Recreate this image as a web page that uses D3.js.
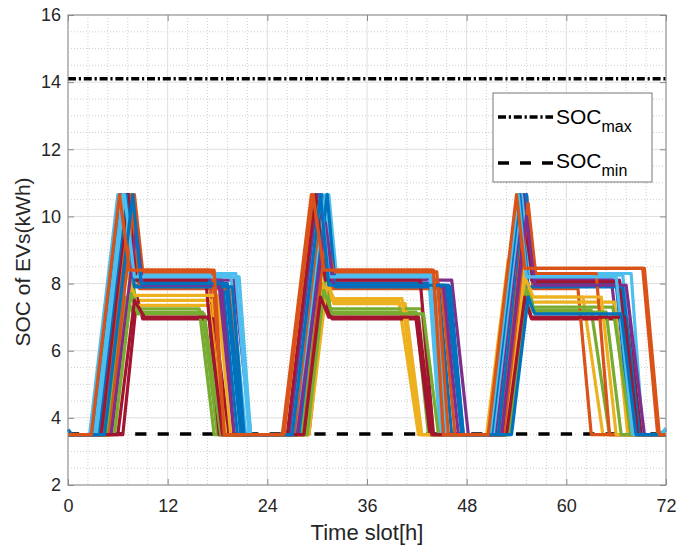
<!DOCTYPE html>
<html>
<head>
<meta charset="utf-8">
<script src="https://cdn.jsdelivr.net/npm/d3@7"></script>
<style>
  body { margin: 0; background: #fff; }
  svg { display: block; font-family: "Liberation Sans", Arial, sans-serif; }
</style>
</head>
<body>
<script>
// Achsen / Ticks
const xTicks = [0, 12, 24, 36, 48, 60, 72];
const yTicks = [2, 4, 6, 8, 10, 12, 14, 16];
const xMinor = d3.range(0, 72.01, 2.4);
const yMinor = d3.range(2, 16.01, 0.5);

// Grenzwerte
const socMax = 14.1;
const socMin = 3.52;

// SOC-Verlauf je EV, als [Stunde, kWh] Knickpunkte
const ev01 = [[0,3.65],[0.5,3.5],[3.0,3.5],[6.4,10.65],[7.6,7.95],[19.0,7.95],[20.8,3.5],[26.6,3.5],[30.0,10.65],[31.2,7.95],[45.5,7.95],[47.4,3.5],[51.6,3.5],[55.0,10.65],[56.0,7.95],[66.2,7.95],[68.0,3.5],[71.2,3.5],[72,3.65]];
const ev02 = [[0,3.5],[3.4,3.5],[6.8,10.65],[8.0,8.4],[17.0,8.4],[18.4,3.5],[25.8,3.5],[29.3,10.65],[30.6,8.4],[43.8,8.4],[45.0,3.5],[51.0,3.5],[54.4,10.65],[55.4,8.45],[69.2,8.45],[71.0,3.5],[72,3.5]];
const ev03 = [[0,3.5],[4.6,3.5],[7.0,8.6],[7.8,7.5],[17.4,7.5],[19.0,3.5],[28.4,3.5],[30.6,8.9],[31.6,7.5],[39.8,7.5],[42.2,3.5],[50.4,3.5],[53.0,8.7],[55.6,7.6],[62.0,7.6],[64.4,3.5],[72,3.5]];
const ev04 = [[0,3.5],[3.6,3.5],[7.0,10.65],[8.2,8.1],[20.0,8.1],[22.0,3.5],[27.0,3.5],[30.4,10.65],[31.6,8.1],[46.2,8.1],[48.2,3.5],[52.0,3.5],[55.2,10.65],[56.2,8.15],[65.4,8.15],[67.6,3.5],[72,3.5]];
const ev05 = [[0,3.5],[4.8,3.5],[7.0,7.6],[7.8,7.15],[16.2,7.15],[18.0,3.5],[28.6,3.5],[30.6,8.0],[31.6,7.15],[41.9,7.15],[43.4,3.5],[52.6,3.5],[55.0,8.0],[56.0,7.2],[63.0,7.2],[65.2,3.5],[72,3.5]];
const ev06 = [[0,3.5],[2.6,3.5],[6.0,10.65],[7.4,8.3],[20.2,8.3],[21.8,3.5],[28.0,3.5],[31.4,10.65],[32.3,8.3],[43.4,8.3],[44.8,3.5],[51.8,3.5],[55.2,10.65],[56.2,8.3],[67.8,8.3],[69.2,3.5],[71.4,3.5],[72,3.7]];
const ev07 = [[0,3.5],[6.6,3.5],[8.3,7.6],[9.0,6.95],[17.6,6.95],[19.4,3.5],[29.0,3.5],[30.8,7.6],[31.8,6.95],[41.9,6.95],[43.6,3.5],[52.8,3.5],[54.8,7.7],[55.8,6.95],[67.4,6.95],[69.0,3.5],[72,3.5]];
const ev08 = [[0,3.5],[4.0,3.5],[7.4,10.65],[8.4,8.05],[18.6,8.05],[20.4,3.5],[27.2,3.5],[30.6,10.65],[31.6,8.0],[44.6,8.0],[46.2,3.5],[51.8,3.5],[55.2,10.65],[56.0,8.0],[66.0,8.0],[67.8,3.5],[72,3.5]];
const ev09 = [[0,3.5],[4.2,3.5],[7.6,10.65],[8.6,7.85],[19.4,7.85],[21.2,3.5],[27.4,3.5],[30.4,10.0],[31.4,7.85],[45.0,7.85],[46.6,3.5],[52.2,3.5],[55.0,10.0],[56.0,7.85],[61.4,7.85],[63.0,3.5],[72,3.5]];
const ev10 = [[0,3.5],[5.2,3.5],[7.6,8.3],[8.2,7.35],[17.0,7.35],[18.6,3.5],[28.8,3.5],[31.0,8.4],[32.0,7.4],[40.6,7.4],[42.6,3.5],[52.4,3.5],[54.8,8.5],[55.8,7.45],[65.8,7.45],[67.4,3.5],[72,3.5]];
const ev11 = [[0,3.5],[3.8,3.5],[7.2,10.65],[8.0,8.15],[18.4,8.15],[20.0,3.5],[26.8,3.5],[30.2,10.65],[31.4,8.15],[43.8,8.15],[45.4,3.5],[51.4,3.5],[54.8,10.65],[55.8,8.1],[66.4,8.1],[68.6,3.5],[72,3.5]];
const ev12 = [[0,3.5],[4.4,3.5],[7.4,9.0],[8.2,7.25],[15.8,7.25],[17.6,3.5],[28.2,3.5],[30.6,8.6],[31.6,7.25],[42.6,7.25],[44.0,3.5],[53.0,3.5],[55.2,8.2],[56.0,7.3],[65.6,7.3],[67.8,3.5],[72,3.5]];
const ev13 = [[0,3.5],[3.2,3.5],[6.6,10.65],[7.8,8.25],[19.6,8.25],[21.4,3.5],[27.6,3.5],[31.0,10.65],[32.0,8.25],[44.0,8.25],[45.6,3.5],[51.2,3.5],[54.6,10.65],[55.6,8.25],[66.8,8.25],[68.6,3.5],[72,3.5]];
const ev14 = [[0,3.5],[4.0,3.5],[7.2,10.65],[8.2,8.1],[16.6,8.1],[18.2,3.5],[26.4,3.5],[29.8,10.65],[31.0,8.1],[42.4,8.1],[44.0,3.5],[52.4,3.5],[55.0,9.8],[56.0,8.05],[66.4,8.05],[68.4,3.5],[72,3.5]];
const ev15 = [[0,3.5],[3.6,3.5],[7.0,10.65],[8.0,7.9],[19.8,7.9],[21.2,3.5],[27.8,3.5],[31.2,10.65],[32.2,7.9],[46.0,7.9],[47.6,3.5],[51.0,3.5],[54.4,10.65],[55.4,7.9],[66.8,7.9],[68.8,3.5],[72,3.5]];
const ev16 = [[0,3.5],[5.0,3.5],[8.0,10.65],[9.0,8.35],[17.4,8.35],[18.8,3.5],[28.4,3.5],[31.0,9.4],[32.0,8.35],[44.4,8.35],[45.8,3.5],[52.6,3.5],[55.4,10.4],[56.3,8.3],[63.6,8.3],[65.2,3.5],[72,3.5]];
const ev17 = [[0,3.5],[5.4,3.5],[7.4,8.0],[8.0,7.65],[18.0,7.65],[19.6,3.5],[29.0,3.5],[31.2,8.0],[32.0,7.55],[40.2,7.55],[42.4,3.5],[52.8,3.5],[55.0,8.2],[56.0,7.6],[64.2,7.6],[66.0,3.5],[72,3.5]];
const ev18 = [[0,3.5],[5.2,3.5],[8.2,9.6],[9.0,7.95],[18.2,7.95],[20.0,3.5],[27.6,3.5],[31.0,9.8],[32.0,7.95],[45.2,7.95],[47.0,3.5],[52.2,3.5],[55.2,10.0],[56.2,7.95],[67.2,7.95],[69.4,3.5],[72,3.5]];
const ev19 = [[0,3.5],[5.6,3.5],[7.6,7.7],[8.4,7.1],[16.4,7.1],[18.4,3.5],[28.8,3.5],[30.8,7.8],[31.8,7.1],[42.8,7.1],[44.6,3.5],[53.2,3.5],[55.2,7.8],[56.0,7.15],[64.8,7.15],[66.6,3.5],[72,3.5]];
const ev20 = [[0,3.5],[3.4,3.5],[6.8,10.65],[8.0,8.2],[20.6,8.2],[22.0,3.5],[27.0,3.5],[30.4,10.65],[31.4,8.2],[43.6,8.2],[45.2,3.5],[50.8,3.5],[54.2,10.65],[55.2,8.2],[66.0,8.2],[68.0,3.5],[72,3.5]];
const ev21 = [[0,3.5],[6.0,3.5],[8.0,7.5],[9.2,7.0],[17.0,7.0],[18.6,3.5],[28.4,3.5],[30.4,7.6],[31.4,7.0],[42.2,7.0],[43.8,3.5],[52.8,3.5],[55.0,7.6],[55.8,7.0],[67.0,7.0],[68.6,3.5],[72,3.5]];
const ev22 = [[0,3.5],[4.4,3.5],[7.8,10.65],[8.8,8.0],[19.2,8.0],[21.0,3.5],[27.0,3.5],[30.4,10.65],[31.4,7.95],[45.8,7.95],[47.6,3.5],[53.4,3.5],[55.4,7.6],[56.2,7.1],[66.6,7.1],[68.4,3.5],[72,3.5]];
const ev23 = [[0,3.5],[2.8,3.5],[6.2,10.65],[7.4,8.4],[17.6,8.4],[18.8,3.5],[26.0,3.5],[29.5,10.65],[30.8,8.4],[44.0,8.4],[45.2,3.5],[50.6,3.5],[54.0,10.65],[55.0,8.45],[69.4,8.45],[71.2,3.5],[72,3.5]];

const evSeries = [ev01, ev02, ev03, ev04, ev05, ev06, ev07, ev08, ev09, ev10, ev11, ev12,
                  ev13, ev14, ev15, ev16, ev17, ev18, ev19, ev20, ev21, ev22, ev23];

// MATLAB Standard-Farbreihenfolge
const colorOrder = ["#0072BD", "#D95319", "#EDB120", "#7E2F8E", "#77AC30", "#4DBEEE", "#A2142F"];

const W = 677, H = 550;
const margin = {top: 15, right: 11, bottom: 65, left: 68};
const width = W - margin.left - margin.right,
      height = H - margin.top - margin.bottom;

const svg = d3.select("body").append("svg")
    .attr("width", W)
    .attr("height", H);

const g = svg.append("g")
    .attr("transform", `translate(${margin.left},${margin.top})`);

const x = d3.scaleLinear().domain([0, 72]).range([0, width]);
const y = d3.scaleLinear().domain([2, 16]).range([height, 0]);

// Nebengitter (gepunktet)
g.append("g").selectAll("line")
    .data(xMinor.filter(v => !xTicks.some(t => Math.abs(t - v) < 1e-6)))
    .join("line")
    .attr("x1", d => x(d)).attr("x2", d => x(d))
    .attr("y1", 0).attr("y2", height)
    .attr("stroke", "#cfcfcf").attr("stroke-width", 1)
    .attr("stroke-dasharray", "1,2");
g.append("g").selectAll("line")
    .data(yMinor.filter(v => !yTicks.some(t => Math.abs(t - v) < 1e-6)))
    .join("line")
    .attr("x1", 0).attr("x2", width)
    .attr("y1", d => y(d)).attr("y2", d => y(d))
    .attr("stroke", "#cfcfcf").attr("stroke-width", 1)
    .attr("stroke-dasharray", "1,2");

// Hauptgitter
g.append("g").selectAll("line")
    .data(xTicks)
    .join("line")
    .attr("x1", d => x(d)).attr("x2", d => x(d))
    .attr("y1", 0).attr("y2", height)
    .attr("stroke", "#dedede").attr("stroke-width", 1);
g.append("g").selectAll("line")
    .data(yTicks)
    .join("line")
    .attr("x1", 0).attr("x2", width)
    .attr("y1", d => y(d)).attr("y2", d => y(d))
    .attr("stroke", "#dedede").attr("stroke-width", 1);

// SOC Grenzen
const hline = (v) => d3.line()([[x(0), y(v)], [x(72), y(v)]]);
g.append("path")
    .attr("d", hline(socMax))
    .attr("fill", "none").attr("stroke", "#000").attr("stroke-width", 3.5)
    .attr("stroke-dasharray", "8,2.8,2.2,2.8");
g.append("path")
    .attr("d", hline(socMin))
    .attr("fill", "none").attr("stroke", "#000").attr("stroke-width", 3.5)
    .attr("stroke-dasharray", "11.2,11.2");

// EV Linien
const line = d3.line()
    .x(d => x(d[0]))
    .y(d => y(d[1]));

g.append("g").selectAll("path")
    .data(evSeries)
    .join("path")
    .attr("d", line)
    .attr("fill", "none")
    .attr("stroke", (d, i) => colorOrder[i % colorOrder.length])
    .attr("stroke-width", 3.2)
    .attr("stroke-linejoin", "round");

// Achsen
const axisColor = "#8a8a8a";
const styleAxis = sel => {
    sel.select(".domain").remove();
    sel.selectAll(".tick line").attr("stroke", axisColor);
    sel.selectAll(".tick text")
        .attr("fill", "#262626")
        .style("font-size", "18px")
        .style("font-family", "'Liberation Sans', Arial, sans-serif");
};

g.append("g")
    .attr("transform", `translate(0,${height})`)
    .call(d3.axisBottom(x).tickValues(xTicks).tickSizeInner(-6).tickSizeOuter(0).tickPadding(14))
    .call(styleAxis);
g.append("g")
    .call(d3.axisTop(x).tickValues(xTicks).tickSizeInner(-6).tickSizeOuter(0).tickFormat(""))
    .call(styleAxis);
g.append("g")
    .call(d3.axisLeft(y).tickValues(yTicks).tickSizeInner(-6).tickSizeOuter(0).tickPadding(7))
    .call(styleAxis);
g.append("g")
    .attr("transform", `translate(${width},0)`)
    .call(d3.axisRight(y).tickValues(yTicks).tickSizeInner(-6).tickSizeOuter(0).tickFormat(""))
    .call(styleAxis);

// Rahmen
g.append("rect")
    .attr("width", width).attr("height", height)
    .attr("fill", "none").attr("stroke", axisColor).attr("stroke-width", 1);

// Achsenbeschriftungen
svg.append("text")
    .attr("x", margin.left + width / 2)
    .attr("y", 540)
    .attr("text-anchor", "middle")
    .attr("fill", "#262626")
    .style("font-size", "22px")
    .text("Time slot[h]");

svg.append("text")
    .attr("transform", `translate(30,${margin.top + height / 2 + 12}) rotate(-90)`)
    .attr("text-anchor", "middle")
    .attr("fill", "#262626")
    .style("font-size", "21px")
    .text("SOC of EVs(kWh)");

// Legende
const legend = svg.append("g");
legend.append("rect")
    .attr("x", 493).attr("y", 93)
    .attr("width", 159).attr("height", 89)
    .attr("fill", "#fff").attr("stroke", "#777").attr("stroke-width", 1);

const legendItems = [
    {label: "max", dash: "8,2.8,2.2,2.8", ly: 117, ty: 124},
    {label: "min", dash: "11,11", ly: 163, ty: 168}
];
legendItems.forEach(it => {
    legend.append("line")
        .attr("x1", 498).attr("x2", 553)
        .attr("y1", it.ly).attr("y2", it.ly)
        .attr("stroke", "#000").attr("stroke-width", 3.5)
        .attr("stroke-dasharray", it.dash);
    const t = legend.append("text")
        .attr("x", 556).attr("y", it.ty)
        .attr("fill", "#000")
        .style("font-size", "21px");
    t.append("tspan").text("SOC");
    t.append("tspan").attr("dy", 8).style("font-size", "16px").text(it.label);
});
</script>
</body>
</html>
